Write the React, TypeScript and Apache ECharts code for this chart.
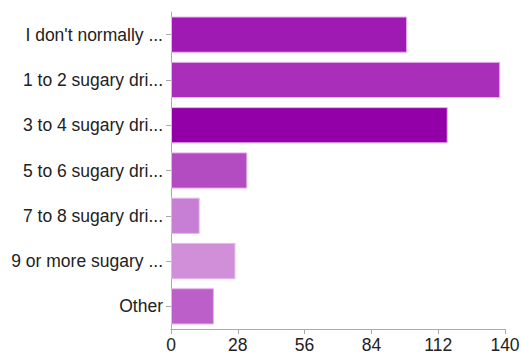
import React, { useEffect, useRef } from "react";
import * as echarts from "echarts";

const categories = [
  "I don't normally ...",
  "1 to 2 sugary dri...",
  "3 to 4 sugary dri...",
  "5 to 6 sugary dri...",
  "7 to 8 sugary dri...",
  "9 or more sugary ...",
  "Other",
];
const values = [99, 138, 116, 32, 12, 27, 18];
const colors = ["#9e1ab3", "#a92fba", "#9400a8", "#b34bc1", "#c77fd5", "#d18fd9", "#bc5fc9"];
const xTicks = [0, 28, 56, 84, 112, 140];

export default function App() {
  const ref = useRef<HTMLDivElement>(null);
  useEffect(() => {
    const chart = echarts.init(ref.current!, null, { renderer: "svg" });
    chart.setOption({
      animation: false,
      grid: { left: 171, right: 17, top: 12, bottom: 23, outerBoundsMode: "none", containLabel: false },
      xAxis: {
        type: "value",
        min: xTicks[0],
        max: xTicks[xTicks.length - 1],
        interval: 28,
        splitLine: { show: false },
        axisLine: { show: true, lineStyle: { color: "#aaaaaa", width: 1 } },
        axisTick: { show: true, length: 5, lineStyle: { color: "#aaaaaa" } },
        axisLabel: {
          color: "#222222",
          fontFamily: "Liberation Sans",
          fontSize: 17.5,
          lineHeight: 14,
          margin: 9,
        },
      },
      yAxis: {
        type: "category",
        inverse: true,
        data: categories,
        axisLine: { show: true, lineStyle: { color: "#aaaaaa", width: 1 } },
        axisTick: { show: true, length: 5, alignWithLabel: true, lineStyle: { color: "#aaaaaa" } },
        axisLabel: {
          color: "#222222",
          fontFamily: "Liberation Sans",
          fontSize: 17.5,
          margin: 8,
          padding: [4, 0, 0, 0],
        },
      },
      series: [
        {
          type: "bar",
          data: values.map((v, i) => ({
            value: v,
            itemStyle: { color: colors[i], borderColor: "#e6b3ee", borderWidth: 1 },
          })),
          barCategoryGap: "20%",
        },
      ],
    });
    return () => chart.dispose();
  }, []);
  return (
    <div
      ref={ref}
      style={{ position: "absolute", left: 0, top: 0, width: 522, height: 352 }}
    />
  );
}
